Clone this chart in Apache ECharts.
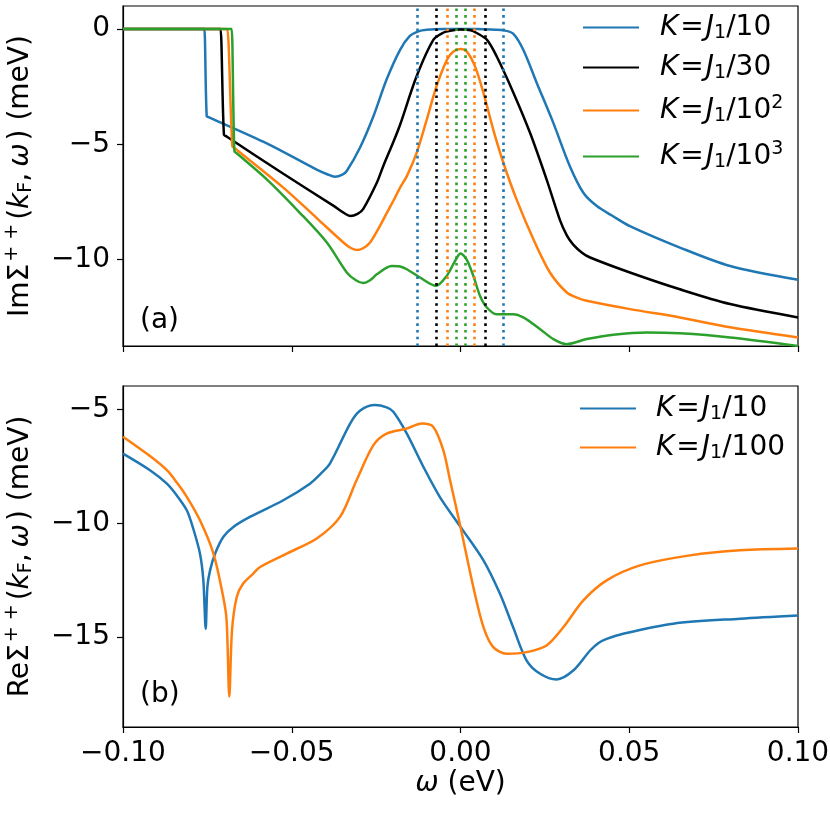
<!DOCTYPE html>
<html>
<head>
<meta charset="utf-8">
<script src="https://cdn.jsdelivr.net/npm/echarts@6/dist/echarts.min.js"></script>
<style>html,body{margin:0;padding:0;background:#fff}#c{width:830px;height:828px}</style>
</head>
<body>
<div id="c"></div>
<script>
// ---------- data ----------
const xTicks = [-0.1, -0.05, 0, 0.05, 0.1];
const imYTicks = [-10, -5, 0];
const reYTicks = [-15, -10, -5];

// panel (a): Im Sigma ++ (meV) vs omega (eV)
const imK10 = [[-0.1,0],[-0.085,0],[-0.0762,0],[-0.0759,0],[-0.0752,-3.78],[-0.0745,-3.83],[-0.0574,-4.96],[-0.0426,-6.1],[-0.0395,-6.3],[-0.0372,-6.41],[-0.035,-6.32],[-0.0337,-6.16],[-0.0298,-5.15],[-0.0258,-3.78],[-0.0219,-2.19],[-0.0179,-0.9],[-0.015,-0.3],[-0.0125,-0.1],[-0.01,-0.03],[-0.005,0],[0.005,0],[0.01,-0.03],[0.0129,-0.06],[0.0156,-0.2],[0.0186,-0.9],[0.0226,-2.34],[0.0275,-4.07],[0.0324,-5.95],[0.0364,-7.1],[0.0404,-7.68],[0.045,-8.1],[0.0502,-8.55],[0.065,-9.48],[0.0799,-10.28],[0.1,-10.88]];
const imK30 = [[-0.1,0],[-0.085,0],[-0.0714,0],[-0.0711,0],[-0.0701,-4.58],[-0.0693,-4.66],[-0.0525,-6.28],[-0.0377,-7.66],[-0.0345,-7.98],[-0.0327,-8.11],[-0.0305,-8.02],[-0.0288,-7.8],[-0.0248,-6.67],[-0.0229,-5.95],[-0.0199,-4.9],[-0.0179,-4.15],[-0.013,-2.05],[-0.008,-0.46],[-0.005,-0.15],[-0.003,-0.07],[0,-0.02],[0.003,-0.05],[0.0048,-0.17],[0.0078,-0.46],[0.0107,-1.18],[0.0157,-2.77],[0.0206,-4.5],[0.0255,-6.52],[0.0295,-8.3],[0.0315,-8.95],[0.0334,-9.35],[0.036,-9.7],[0.0384,-9.91],[0.0502,-10.56],[0.065,-11.29],[0.0799,-11.93],[0.1,-12.51]];
const imK100 = [[-0.1,0],[-0.085,0],[-0.0694,0],[-0.0691,0],[-0.0676,-5.08],[-0.0668,-5.18],[-0.0525,-6.88],[-0.0426,-8.2],[-0.0347,-9.26],[-0.0325,-9.5],[-0.0308,-9.58],[-0.029,-9.52],[-0.0268,-9.26],[-0.0239,-8.55],[-0.0219,-8.0],[-0.0199,-7.45],[-0.0179,-6.88],[-0.0159,-6.38],[-0.013,-5.37],[-0.01,-3.93],[-0.0071,-2.48],[-0.004,-1.33],[-0.0021,-0.97],[0,-0.87],[0.0018,-0.97],[0.0043,-1.62],[0.0068,-2.77],[0.0097,-4.36],[0.0127,-5.8],[0.0166,-7.39],[0.0216,-9.12],[0.0265,-10.56],[0.0315,-11.43],[0.0345,-11.65],[0.0374,-11.79],[0.0502,-12.15],[0.065,-12.51],[0.0799,-12.94],[0.1,-13.38]];
const imK1000 = [[-0.1,0],[-0.085,0],[-0.0681,0],[-0.0678,0],[-0.067,-5.3],[-0.0663,-5.39],[-0.0574,-6.52],[-0.0476,-7.97],[-0.0396,-9.26],[-0.0337,-10.56],[-0.031,-10.9],[-0.0288,-11.02],[-0.0268,-10.9],[-0.0248,-10.64],[-0.0204,-10.28],[-0.0179,-10.3],[-0.0159,-10.42],[-0.012,-10.78],[-0.0073,-11.14],[-0.0041,-10.71],[-0.0016,-10.06],[0,-9.74],[0.0018,-9.99],[0.0038,-10.71],[0.0058,-11.58],[0.0078,-12.08],[0.0107,-12.37],[0.0156,-12.37],[0.0186,-12.51],[0.0236,-13.02],[0.0275,-13.45],[0.0315,-13.67],[0.0374,-13.45],[0.0453,-13.26],[0.0552,-13.16],[0.065,-13.2],[0.0799,-13.38],[0.1,-13.75]];

// dotted vertical markers (omega, eV) in panel (a)
const markK10 = [-0.0127, 0.0127];
const markK30 = [-0.00733, 0.00733];
const markK100 = [-0.00402, 0.00402];
const markK1000 = [-0.00127, 0.00127];

// panel (b): Re Sigma ++ (meV) vs omega (eV)
const reK10 = [[-0.1,-6.94],[-0.092,-7.67],[-0.087,-8.26],[-0.0841,-8.77],[-0.0811,-9.43],[-0.0792,-10.23],[-0.0772,-11.33],[-0.0762,-12.5],[-0.0755,-14.63],[-0.075,-12.8],[-0.0742,-12.07],[-0.0727,-11.33],[-0.0703,-10.6],[-0.0673,-10.16],[-0.0624,-9.72],[-0.0525,-8.99],[-0.0446,-8.26],[-0.0416,-7.85],[-0.0387,-7.38],[-0.0327,-5.62],[-0.0298,-5.06],[-0.0253,-4.81],[-0.0219,-4.91],[-0.0199,-5.1],[-0.0159,-6.06],[-0.011,-7.52],[-0.0061,-8.85],[0,-10.16],[0.0068,-11.63],[0.0117,-13.1],[0.0156,-14.57],[0.0196,-16.03],[0.0236,-16.61],[0.0285,-16.86],[0.0334,-16.47],[0.0384,-15.59],[0.041,-15.25],[0.0433,-15.08],[0.0482,-14.85],[0.063,-14.41],[0.0828,-14.19],[0.1,-14.05]];
const reK100 = [[-0.1,-6.2],[-0.092,-7.05],[-0.087,-7.67],[-0.0841,-8.2],[-0.0811,-8.84],[-0.0772,-9.87],[-0.0732,-11.33],[-0.0703,-13.24],[-0.0693,-14.27],[-0.0685,-17.61],[-0.0677,-14.7],[-0.0663,-13.24],[-0.0644,-12.65],[-0.0614,-12.21],[-0.0594,-11.92],[-0.0515,-11.33],[-0.0426,-10.67],[-0.0357,-9.72],[-0.0308,-8.11],[-0.0258,-6.57],[-0.0219,-6.06],[-0.0159,-5.84],[-0.0115,-5.62],[-0.0081,-5.76],[-0.0051,-6.79],[-0.0031,-8.11],[0,-10.16],[0.0038,-12.8],[0.0068,-14.56],[0.0097,-15.44],[0.0137,-15.73],[0.0196,-15.66],[0.0255,-15.37],[0.0305,-14.56],[0.0364,-13.39],[0.0433,-12.51],[0.0532,-11.85],[0.068,-11.41],[0.0828,-11.19],[0.1,-11.11]];

const imNames = ['imK10', 'imK30', 'imK100', 'imK1000'];
const reNames = ['reK10', 'reK100'];
const legendText = {
  imK10: '{i|K}{eq|=}{i|J}{sub|1}{n|/10}',
  imK30: '{i|K}{eq|=}{i|J}{sub|1}{n|/30}',
  imK100: '{i|K}{eq|=}{i|J}{sub|1}{n|/10}{sup|2}',
  imK1000: '{i|K}{eq|=}{i|J}{sub|1}{n|/10}{sup|3}',
  reK10: '{i|K}{eq|=}{i|J}{sub|1}{n|/10}',
  reK100: '{i|K}{eq|=}{i|J}{sub|1}{n|/100}'
};

// ---------- styling ----------
const F = 'DejaVu Sans';
const FS = 28;
const C = { blue: '#1f77b4', orange: '#ff7f0e', green: '#2ca02c', black: '#000000' };
const rich = {
  n:   { fontFamily: F, fontSize: FS, color: '#000', lineHeight: 32 },
  i:   { fontFamily: F, fontSize: FS, fontStyle: 'italic', color: '#000', lineHeight: 32 },
  ip:  { fontFamily: F, fontSize: FS, fontStyle: 'italic', color: '#000', lineHeight: 32, padding: [0, 3, 0, 6] },
  eq:  { fontFamily: F, fontSize: FS, color: '#000', lineHeight: 32, padding: [0, 2, 0, 2] },
  sub: { fontFamily: F, fontSize: 19, color: '#000', lineHeight: 20, padding: [12, 0, 0, 0] },
  sup: { fontFamily: F, fontSize: 19, color: '#000', lineHeight: 20, padding: [2, 0, 16, 0] },
  supw:{ fontFamily: F, fontSize: 19, color: '#000', lineHeight: 20, padding: [2, 4, 18, 2] }
};

function fmtX(v) {
  if (Math.abs(v) < 1e-9) return '0.00';
  return (v < 0 ? '\u2212' : '') + Math.abs(v).toFixed(2);
}
function fmtY(v) {
  if (Math.abs(v) < 1e-9) return '0';
  return (v < 0 ? '\u2212' : '') + Math.abs(Math.round(v));
}

const tickStyle = { show: true, inside: false, length: 6, lineStyle: { color: '#000', width: 1.2 } };
const labelStyle = { fontFamily: F, fontSize: FS, color: '#000', margin: 13 };
const lineAxis = { show: true, onZero: false, lineStyle: { color: '#000', width: 1.2 } };

function mkX(grid, showLabels) {
  return {
    type: 'value', gridIndex: grid, position: 'bottom', min: -0.1, max: 0.1, interval: 0.05,
    axisLine: lineAxis, splitLine: { show: false },
    axisTick: Object.assign({ customValues: xTicks }, tickStyle),
    axisLabel: Object.assign({ show: showLabels, customValues: xTicks, formatter: fmtX }, labelStyle),
    name: showLabels ? '{i|\u03c9}{n| (eV)}' : '',
    nameLocation: 'middle', nameGap: 41,
    nameTextStyle: { rich: rich, fontFamily: F, fontSize: FS, color: '#000' }
  };
}
function mkY(grid, min, max, ticks, name) {
  return {
    type: 'value', gridIndex: grid, position: 'left', min: min, max: max,
    axisLine: lineAxis, splitLine: { show: false },
    axisTick: Object.assign({ customValues: ticks }, tickStyle),
    axisLabel: Object.assign({ customValues: ticks, formatter: fmtY }, labelStyle),
    name: name, nameLocation: 'middle', nameRotate: 90, nameGap: 68,
    nameTextStyle: { rich: rich, fontFamily: F, fontSize: FS, color: '#000' }
  };
}
function mkLine(name, data, color, xi, marks) {
  const s = {
    name: name, type: 'line', xAxisIndex: xi, yAxisIndex: xi, data: data,
    symbol: 'none', showSymbol: false, smooth: 0.3, clip: true,
    lineStyle: { color: color, width: 2.5 }, itemStyle: { color: color },
    emphasis: { disabled: true }, animation: false
  };
  if (marks) {
    s.markLine = {
      silent: true, symbol: ['none', 'none'], animation: false, precision: 10,
      label: { show: false },
      lineStyle: { color: color, width: 2.6, type: [2.6, 4.1], cap: 'butt' },
      emphasis: { disabled: true },
      data: marks.map(v => ({ xAxis: v }))
    };
  }
  return s;
}
function mkLegend(names, left, top, gap, pad) {
  return {
    data: names, orient: 'vertical', left: left, top: top, padding: 5,
    itemWidth: 56, itemHeight: 30, itemGap: gap, selectedMode: false,
    itemStyle: { opacity: 0 },
    formatter: n => legendText[n],
    textStyle: { rich: rich, fontFamily: F, fontSize: FS, color: '#000', padding: [0, 0, 0, pad] }
  };
}

const gridBase = { show: true, borderColor: '#000', borderWidth: 1.2, backgroundColor: 'transparent', containLabel: false, outerBoundsMode: 'none' };
const chart = echarts.init(document.getElementById('c'), null, { renderer: 'canvas' });
chart.setOption({
  animation: false,
  backgroundColor: '#fff',
  grid: [
    Object.assign({ left: 123, top: 6, width: 675, height: 340 }, gridBase),
    Object.assign({ left: 123, top: 386, width: 675, height: 341 }, gridBase)
  ],
  xAxis: [mkX(0, false), mkX(1, true)],
  yAxis: [
    mkY(0, -13.75, 1.0, imYTicks, '{n|Im\u03a3}{supw|+ +}{n|(}{i|k}{sub|F}{n|,}{ip|\u03c9}{n|) (meV)}'),
    mkY(1, -18.95, -3.97, reYTicks, '{n|Re\u03a3}{supw|+ +}{n|(}{i|k}{sub|F}{n|,}{ip|\u03c9}{n|) (meV)}')
  ],
  legend: [
    mkLegend(imNames, 577, 7, 9, 16),
    mkLegend(reNames, 574, 388, 8, 15)
  ],
  graphic: [
    { type: 'text', left: 140, top: 307, style: { text: '(a)', fontFamily: F, fontSize: FS, fill: '#000' } },
    { type: 'text', left: 140, top: 681, style: { text: '(b)', fontFamily: F, fontSize: FS, fill: '#000' } }
  ],
  series: [
    mkLine('imK10', imK10, C.blue, 0, markK10),
    mkLine('imK30', imK30, C.black, 0, markK30),
    mkLine('imK100', imK100, C.orange, 0, markK100),
    mkLine('imK1000', imK1000, C.green, 0, markK1000),
    mkLine('reK10', reK10, C.blue, 1, null),
    mkLine('reK100', reK100, C.orange, 1, null)
  ]
});
</script>
</body>
</html>
